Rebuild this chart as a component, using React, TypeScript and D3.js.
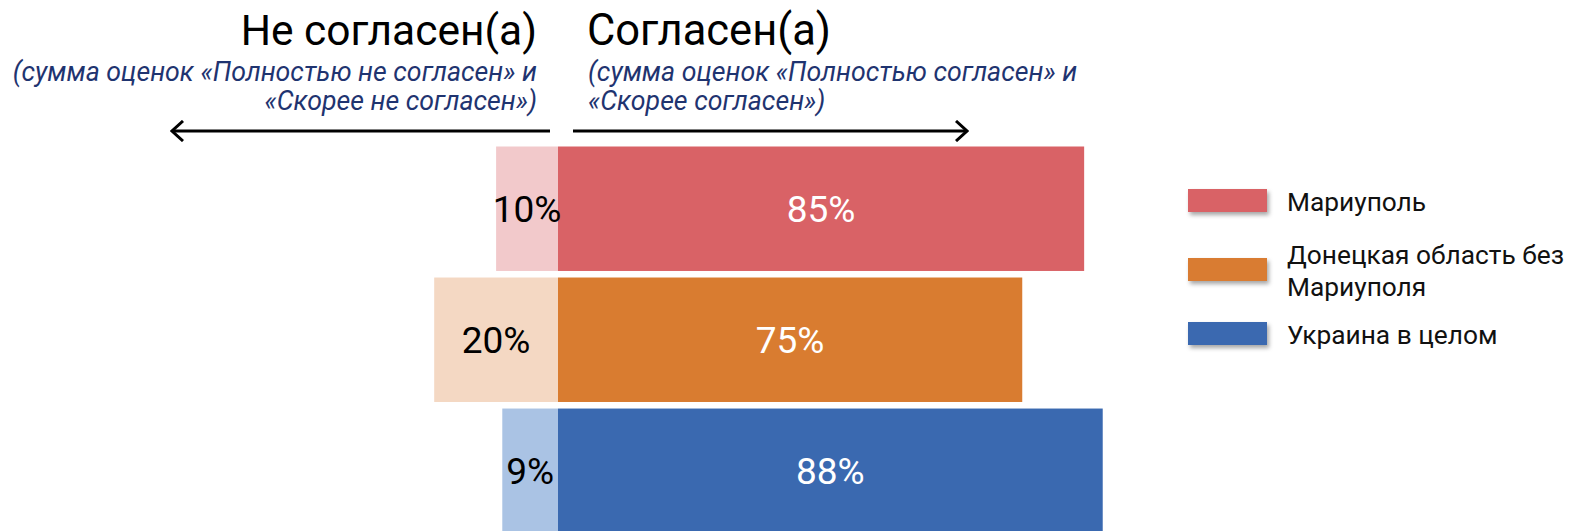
import React from "react";
import * as d3 from "d3";

const categories = ["Мариуполь", "Донецкая область без Мариуполя", "Украина в целом"];
const legendLines = [["Мариуполь"], ["Донецкая область без", "Мариуполя"], ["Украина в целом"]];
const disagree = [10, 20, 9];
const agree = [85, 75, 88];
const strongColors = ["#D96266", "#D97C30", "#3A69B0"];
const lightColors = ["#F2C9CB", "#F4D8C3", "#AAC3E4"];

const W = 1574;
const H = 531;

export default function App() {
  const x = d3.scaleLinear().domain([-100, 100]).range([558 - 619, 558 + 619]);
  const y = d3
    .scaleBand<string>()
    .domain(categories)
    .range([146.5, 533])
    .paddingInner(0.05)
    .paddingOuter(0);
  const bw = y.bandwidth();
  const legendY = [202, 271, 335];
  const navy = "#1F3470";
  const font = "Roboto, 'Noto Sans', sans-serif";

  return (
    <svg
      width={W}
      height={H}
      style={{ position: "absolute", left: 0, top: 0, display: "block" }}
      fontFamily={font}
    >
      <defs>
        <filter id="sh" x="-20%" y="-50%" width="150%" height="220%">
          <feDropShadow dx="2" dy="3" stdDeviation="2" floodColor="#000" floodOpacity="0.35" />
        </filter>
        <marker id="ah" viewBox="0 0 14 22" refX="12" refY="11" markerWidth="14" markerHeight="22" markerUnits="userSpaceOnUse" orient="auto">
          <path d="M1,1 L12,11 L1,21" fill="none" stroke="#000" strokeWidth="3" />
        </marker>
      </defs>
      <rect width={W} height={H} fill="#fff" />

      {/* headings */}
      <text x={537} y={45} textAnchor="end" fontSize={42.5} fill="#000">Не согласен(а)</text>
      <text x={587} y={45} textAnchor="start" fontSize={43.5} fill="#000">Согласен(а)</text>
      <g fontStyle="italic" fontSize={26.7} fill={navy}>
        <text x={537} y={81} textAnchor="end">(сумма оценок «Полностью не согласен» и</text>
        <text x={537} y={110} textAnchor="end">«Скорее не согласен»)</text>
        <text x={588} y={81}>(сумма оценок «Полностью согласен» и</text>
        <text x={588} y={110}>«Скорее согласен»)</text>
      </g>

      {/* arrows */}
      <line x1={550} y1={131} x2={172} y2={131} stroke="#000" strokeWidth={3} markerEnd="url(#ah)" />
      <line x1={573} y1={131} x2={967} y2={131} stroke="#000" strokeWidth={3} markerEnd="url(#ah)" />

      {/* bars */}
      {categories.map((c, i) => {
        const y0 = y(c) as number;
        const cy = y0 + bw / 2;
        return (
          <g key={c}>
            <rect x={x(-disagree[i])} y={y0} width={x(0) - x(-disagree[i])} height={bw} fill={lightColors[i]} />
            <rect x={x(0)} y={y0} width={x(agree[i]) - x(0)} height={bw} fill={strongColors[i]} />
            <text x={x(-disagree[i] / 2)} y={cy} dy="0.36em" textAnchor="middle" fontSize={37} fill="#000">
              {disagree[i]}%
            </text>
            <text x={x(agree[i] / 2)} y={cy} dy="0.36em" textAnchor="middle" fontSize={37} fill="#fff">
              {agree[i]}%
            </text>
          </g>
        );
      })}

      {/* legend */}
      {categories.map((c, i) => {
        const ly = legendY[i];
        const lines = legendLines[i];
        return (
          <g key={"lg" + c}>
            <rect x={1188} y={ly - 13} width={79} height={23} fill={strongColors[i]} filter="url(#sh)" />
            {lines.map((t, j) => (
              <text
                key={t}
                x={1287}
                y={ly + (j - (lines.length - 1) / 2) * 32}
                dy="0.36em"
                fontSize={26.3}
                fill="#111"
              >
                {t}
              </text>
            ))}
          </g>
        );
      })}
    </svg>
  );
}
